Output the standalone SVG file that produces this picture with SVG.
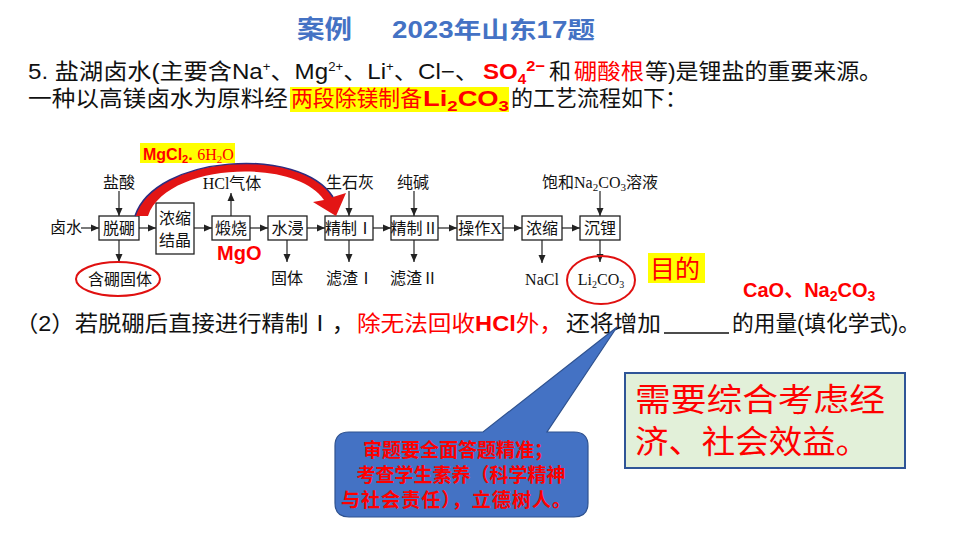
<svg xmlns="http://www.w3.org/2000/svg" width="960" height="540" viewBox="0 0 960 540">
<defs>
<style>
.cn{font-family:"Noto Sans CJK SC","Liberation Sans",sans-serif;}
.ar{font-family:"Liberation Sans","Noto Sans CJK SC",sans-serif;}
.ft{font-family:"Liberation Serif","Noto Sans CJK SC",serif;font-size:16px;fill:#111;}
.box{fill:#fff;stroke:#222;stroke-width:1.3;}
.ln{stroke:#222;stroke-width:1.2;fill:none;marker-end:url(#ah);}
.red{fill:#ff0000;}
.blk{fill:#111;}
</style>
<marker id="ah" viewBox="0 0 8 8" refX="8" refY="4" markerWidth="8" markerHeight="8" markerUnits="userSpaceOnUse" orient="auto">
<path d="M0,0.5 L8,4 L0,7.5 z" fill="#222"/>
</marker>
</defs>
<rect width="960" height="540" fill="#fff"/>

<!-- title -->
<g id="title">
<text x="297" y="38" class="cn" font-size="25" font-weight="bold" fill="#4472C4" textLength="55" lengthAdjust="spacingAndGlyphs">案例</text>
<text x="392" y="38" class="ar" font-size="23" font-weight="bold" fill="#4472C4" textLength="203" lengthAdjust="spacingAndGlyphs">2023年山东17题</text>
</g>

<!-- question text -->
<g id="line1" class="ar" font-size="22">
<text x="28" y="79" class="blk" textLength="451" lengthAdjust="spacingAndGlyphs">5. 盐湖卤水(主要含Na<tspan font-size="12" dy="-8">+</tspan><tspan dy="8">、Mg</tspan><tspan font-size="12" dy="-8">2+</tspan><tspan dy="8">、Li</tspan><tspan font-size="12" dy="-8">+</tspan><tspan dy="8">、Cl−、</tspan></text>
<text x="483" y="79" class="red" font-weight="bold" textLength="62" lengthAdjust="spacingAndGlyphs">SO<tspan font-size="14" dy="5">4</tspan><tspan font-size="15" dy="-13">2−</tspan></text>
<text x="549" y="79" class="blk">和</text>
<text x="574" y="79" class="red" textLength="70" lengthAdjust="spacingAndGlyphs">硼酸根</text>
<text x="645" y="79" class="blk" textLength="237" lengthAdjust="spacingAndGlyphs">等)是锂盐的重要来源。</text>
</g>
<g id="line2" class="ar" font-size="22">
<rect x="290" y="87" width="219" height="25" fill="#ffff00"/>
<text x="28" y="106" class="blk" textLength="260" lengthAdjust="spacingAndGlyphs">一种以高镁卤水为原料经</text>
<text x="291" y="106" class="red" textLength="131" lengthAdjust="spacingAndGlyphs">两段除镁制备</text>
<text x="423" y="106" class="red" font-weight="bold" textLength="86" lengthAdjust="spacingAndGlyphs">Li<tspan font-size="15" dy="5">2</tspan><tspan dy="-5">CO</tspan><tspan font-size="15" dy="5">3</tspan></text>
<text x="511" y="106" class="blk" textLength="176" lengthAdjust="spacingAndGlyphs">的工艺流程如下：</text>
</g>

<!-- flowchart connectors -->
<g id="connectors">
<path class="ln" d="M81,228 H99"/>
<path class="ln" d="M139,228 H156"/>
<path class="ln" d="M194,228 H212"/>
<path class="ln" d="M250,228 H268"/>
<path class="ln" d="M307,228 H325"/>
<path class="ln" d="M373,228 H391"/>
<path class="ln" d="M438,228 H457"/>
<path class="ln" d="M503,228 H522"/>
<path class="ln" d="M562,228 H580"/>
<path class="ln" d="M119,191 V216"/>
<path class="ln" d="M119,240 V262"/>
<path class="ln" d="M231,216 V193"/>
<path class="ln" d="M287,240 V262"/>
<path class="ln" d="M349,191 V216"/>
<path class="ln" d="M349,240 V262"/>
<path class="ln" d="M414,191 V216"/>
<path class="ln" d="M414,240 V262"/>
<path class="ln" d="M542,240 V263"/>
<path class="ln" d="M600,191 V216"/>
<path class="ln" d="M600,240 V262"/>
</g>

<!-- flowchart nodes -->
<g id="n-lushui"><text x="50" y="233" class="ft">卤水</text></g>
<g id="n-tuopeng"><rect class="box" x="99" y="216" width="40" height="24"/><text x="119" y="234" class="ft" text-anchor="middle">脱硼</text></g>
<g id="n-nongsuojiejing"><rect class="box" x="156" y="203" width="38" height="51"/><text x="175" y="224" class="ft" text-anchor="middle">浓缩</text><text x="175" y="246" class="ft" text-anchor="middle">结晶</text></g>
<g id="n-duanshao"><rect class="box" x="212" y="216" width="38" height="24"/><text x="231" y="234" class="ft" text-anchor="middle">煅烧</text></g>
<g id="n-shuijin"><rect class="box" x="268" y="216" width="39" height="24"/><text x="287.5" y="234" class="ft" text-anchor="middle">水浸</text></g>
<g id="n-jingzhi1"><rect class="box" x="325" y="216" width="48" height="24"/><text x="349" y="234" class="ft" text-anchor="middle">精制Ⅰ</text></g>
<g id="n-jingzhi2"><rect class="box" x="391" y="216" width="47" height="24"/><text x="414.5" y="234" class="ft" text-anchor="middle">精制Ⅱ</text></g>
<g id="n-caozuox"><rect class="box" x="457" y="216" width="46" height="24"/><text x="480" y="234" class="ft" text-anchor="middle">操作X</text></g>
<g id="n-nongsuo"><rect class="box" x="522" y="216" width="40" height="24"/><text x="542" y="234" class="ft" text-anchor="middle">浓缩</text></g>
<g id="n-chenli"><rect class="box" x="580" y="216" width="40" height="24"/><text x="600" y="234" class="ft" text-anchor="middle">沉锂</text></g>

<g id="n-yansuan"><text x="119" y="188" class="ft" text-anchor="middle">盐酸</text></g>
<g id="n-hcl"><text x="232" y="189" class="ft" text-anchor="middle">HCl气体</text></g>
<g id="n-shengshihui"><text x="350" y="188" class="ft" text-anchor="middle">生石灰</text></g>
<g id="n-chunjian"><text x="413" y="188" class="ft" text-anchor="middle">纯碱</text></g>
<g id="n-baohe"><text x="600" y="188" class="ft" text-anchor="middle">饱和Na<tspan font-size="11" dy="3">2</tspan><tspan dy="-3">CO</tspan><tspan font-size="11" dy="3">3</tspan><tspan dy="-3">溶液</tspan></text></g>

<g id="n-hanpeng"><ellipse cx="118" cy="279" rx="42" ry="17" fill="none" stroke="#e01010" stroke-width="2"/><text x="120" y="285" class="ft" text-anchor="middle">含硼固体</text></g>
<g id="n-guti"><text x="287" y="284" class="ft" text-anchor="middle">固体</text></g>
<g id="n-lvzha1"><text x="350" y="284" class="ft" text-anchor="middle">滤渣Ⅰ</text></g>
<g id="n-lvzha2"><text x="414" y="284" class="ft" text-anchor="middle">滤渣Ⅱ</text></g>
<g id="n-nacl"><text x="542" y="285" class="ft" text-anchor="middle" font-size="15">NaCl</text></g>
<g id="n-li2co3"><ellipse cx="601" cy="280" rx="34" ry="24" fill="none" stroke="#e01010" stroke-width="2"/><text x="601" y="285" class="ft" text-anchor="middle" font-size="14">Li<tspan font-size="10" dy="3">2</tspan><tspan dy="-3">CO</tspan><tspan font-size="10" dy="3">3</tspan></text></g>

<!-- red curved arrow -->
<g id="mg-arrow">
<path d="M135,216 C155,155 300,145 333,197 L346,193 L336,216 L313,202 L324,200 C295,157 166,163 148,216 Z" fill="#e31515"/>
<path d="M135,216 C155,155 300,145 333,197" fill="none" stroke="#2d2d80" stroke-width="1.5"/>
</g>
<g id="mgcl2">
<rect x="140" y="143" width="95" height="20" fill="#ffff00"/>
<text x="143" y="160" class="red ar" font-size="16" font-weight="bold">MgCl<tspan font-size="11" dy="3">2</tspan><tspan dy="-3">. </tspan><tspan font-family="Liberation Serif" font-weight="normal" font-size="16">6H<tspan font-size="11" dy="3">2</tspan><tspan dy="-3">O</tspan></tspan></text>
</g>
<g id="mgo"><text x="217" y="260" class="red ar" font-size="20" font-weight="bold">MgO</text></g>

<g id="mudi">
<rect x="648" y="253" width="57" height="30" fill="#ffff00"/>
<text x="650" y="278" class="red cn" font-size="25">目的</text>
</g>
<g id="answer"><text x="743" y="297" class="red ar" font-size="20" font-weight="bold">CaO<tspan font-family="Noto Sans CJK SC">、</tspan>Na<tspan font-size="14" dy="4">2</tspan><tspan dy="-4">CO</tspan><tspan font-size="14" dy="4">3</tspan></text></g>

<!-- question 2 -->
<g id="line3" class="ar" font-size="22">
<text x="15" y="331" class="blk" textLength="340" lengthAdjust="spacingAndGlyphs">（2）若脱硼后直接进行精制Ⅰ，</text>
<text x="357" y="331" class="red" textLength="206" lengthAdjust="spacingAndGlyphs">除无法回收<tspan font-weight="bold">HCl</tspan>外，</text>
<text x="566" y="331" class="blk" textLength="95" lengthAdjust="spacingAndGlyphs">还将增加</text>
<line x1="664" y1="333" x2="729" y2="333" stroke="#111" stroke-width="1.3"/>
<text x="732" y="331" class="blk" textLength="188" lengthAdjust="spacingAndGlyphs">的用量(填化学式)。</text>
</g>

<!-- callout -->
<g id="callout">
<path d="M349,432 L483,432 L617,327 L547,432 L574,432 Q588,432 588,446 L588,503 Q588,517 574,517 L349,517 Q335,517 335,503 L335,446 Q335,432 349,432 Z" fill="#4472C4" stroke="#2F528F" stroke-width="1.2"/>
<g class="cn red" font-size="19" font-weight="bold" text-anchor="middle">
<text x="458" y="457">审题要全面答题精准；</text>
<text x="461" y="482">考查学生素养（科学精神</text>
<text x="456" y="507" textLength="230" lengthAdjust="spacing">与社会责任），立德树人。</text>
</g>
</g>

<!-- green box -->
<g id="note">
<rect x="625" y="373" width="280" height="95" fill="#E2F0D9" stroke="#2F5597" stroke-width="2"/>
<text x="635" y="411" class="cn red" font-size="32" textLength="250" lengthAdjust="spacingAndGlyphs">需要综合考虑经</text>
<text x="635" y="453" class="cn red" font-size="32" textLength="234" lengthAdjust="spacingAndGlyphs">济、社会效益。</text>
</g>
</svg>
